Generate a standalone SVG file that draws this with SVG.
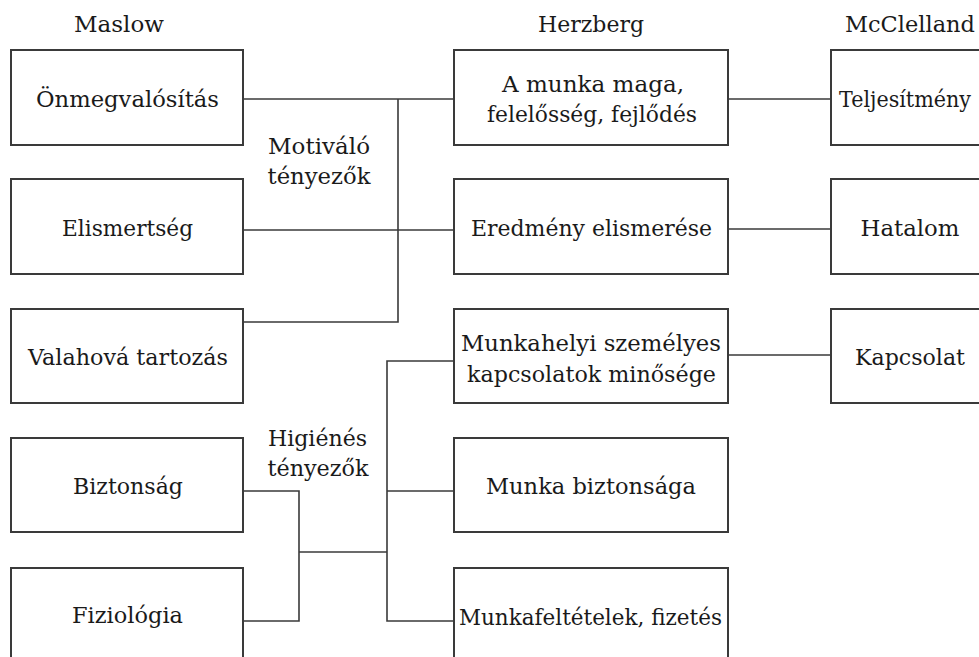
<svg xmlns="http://www.w3.org/2000/svg" width="979" height="657" viewBox="0 0 979 657">
<style>
.box{fill:#fff;stroke:#3a3a3a;stroke-width:2}
.ln{fill:none;stroke:#3a3a3a;stroke-width:1.6}
text{font-family:"DejaVu Serif","Liberation Serif",serif;font-size:23px;fill:#1a1a1a;text-anchor:middle}
</style>
<rect width="979" height="657" fill="#fff"/>
<g id="headers">
<text x="119" y="32" textLength="90" lengthAdjust="spacingAndGlyphs">Maslow</text>
<text x="591" y="32" textLength="106" lengthAdjust="spacingAndGlyphs">Herzberg</text>
<text x="910" y="32" textLength="130" lengthAdjust="spacingAndGlyphs">McClelland</text>
</g>
<g id="connectors">
<path class="ln" d="M243,99 H454"/>
<path class="ln" d="M398,99 V322 H243"/>
<path class="ln" d="M243,230 H454"/>
<path class="ln" d="M728,99 H831"/>
<path class="ln" d="M728,229 H831"/>
<path class="ln" d="M728,355 H831"/>
<path class="ln" d="M243,491 H299 V621 H243"/>
<path class="ln" d="M299,552 H387"/>
<path class="ln" d="M454,361 H387 V621 H454"/>
<path class="ln" d="M387,491 H454"/>
</g>
<g id="m1"><rect class="box" x="11" y="50" width="232" height="95"/><text x="127.5" y="107" textLength="183" lengthAdjust="spacingAndGlyphs">Önmegvalósítás</text></g>
<g id="m2"><rect class="box" x="11" y="179" width="232" height="95"/><text x="127.5" y="236" textLength="131" lengthAdjust="spacingAndGlyphs">Elismertség</text></g>
<g id="m3"><rect class="box" x="11" y="309" width="232" height="94"/><text x="128" y="365" textLength="200" lengthAdjust="spacingAndGlyphs">Valahová tartozás</text></g>
<g id="m4"><rect class="box" x="11" y="438" width="232" height="94"/><text x="128" y="494" textLength="110" lengthAdjust="spacingAndGlyphs">Biztonság</text></g>
<g id="m5"><rect class="box" x="11" y="568" width="232" height="95"/><text x="127.5" y="623" textLength="111" lengthAdjust="spacingAndGlyphs">Fiziológia</text></g>
<g id="h1"><rect class="box" x="454" y="50" width="274" height="95"/><text x="593" y="92" textLength="182" lengthAdjust="spacingAndGlyphs">A munka maga,</text><text x="592" y="122" textLength="210" lengthAdjust="spacingAndGlyphs">felelősség, fejlődés</text></g>
<g id="h2"><rect class="box" x="454" y="179" width="274" height="95"/><text x="591.5" y="236" textLength="241" lengthAdjust="spacingAndGlyphs">Eredmény elismerése</text></g>
<g id="h3"><rect class="box" x="454" y="309" width="274" height="94"/><text x="591" y="351" textLength="260" lengthAdjust="spacingAndGlyphs">Munkahelyi személyes</text><text x="591.5" y="382" textLength="249" lengthAdjust="spacingAndGlyphs">kapcsolatok minősége</text></g>
<g id="h4"><rect class="box" x="454" y="438" width="274" height="94"/><text x="591" y="494" textLength="210" lengthAdjust="spacingAndGlyphs">Munka biztonsága</text></g>
<g id="h5"><rect class="box" x="454" y="568" width="274" height="95"/><text x="590.5" y="625" textLength="263" lengthAdjust="spacingAndGlyphs">Munkafeltételek, fizetés</text></g>
<g id="c1"><rect class="box" x="831" y="50" width="160" height="95"/><text x="905" y="107" textLength="132" lengthAdjust="spacingAndGlyphs">Teljesítmény</text></g>
<g id="c2"><rect class="box" x="831" y="179" width="160" height="95"/><text x="910" y="236" textLength="99" lengthAdjust="spacingAndGlyphs">Hatalom</text></g>
<g id="c3"><rect class="box" x="831" y="309" width="160" height="94"/><text x="910" y="365" textLength="110" lengthAdjust="spacingAndGlyphs">Kapcsolat</text></g>
<g id="labels">
<text x="319" y="154" textLength="102" lengthAdjust="spacingAndGlyphs">Motiváló</text>
<text x="319" y="184" textLength="103" lengthAdjust="spacingAndGlyphs">tényezők</text>
<text x="317.5" y="446" textLength="99" lengthAdjust="spacingAndGlyphs">Higiénés</text>
<text x="318" y="476" textLength="101" lengthAdjust="spacingAndGlyphs">tényezők</text>
</g>
</svg>
